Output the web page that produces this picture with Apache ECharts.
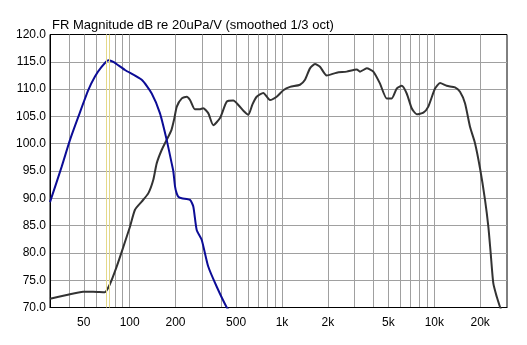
<!DOCTYPE html>
<html>
<head>
<meta charset="utf-8">
<script src="https://cdn.jsdelivr.net/npm/echarts@6/dist/echarts.min.js"></script>
<style>
  html, body { margin: 0; padding: 0; background: #fff; }
  #chart { width: 527px; height: 345px; }
</style>
</head>
<body>
<div id="chart"></div>
<script>
// Chart title
const titleText = 'FR Magnitude dB re 20uPa/V (smoothed 1/3 oct)';

// Frequency grid (Hz) and labelled frequencies
const gridFreqs = [40, 50, 60, 70, 80, 90, 100, 200, 300, 400, 500, 600, 700, 800, 900,
  1000, 2000, 3000, 4000, 5000, 6000, 7000, 8000, 9000, 10000, 20000];
const labelFreqs = [50, 100, 200, 500, 1000, 2000, 5000, 10000, 20000];

// Cursor marker frequencies (Hz)
const markerFreqs = [70.5, 73.7];

// Low-frequency driver response (blue)
const lowFreq = [30, 35.8, 40.6, 46, 53.5, 59.2, 65.6, 72.4, 78.1, 93.2, 120, 139.6, 158, 175,
  188.8, 193.4, 198.5, 203.6, 208.6, 219.6, 249, 261.7, 275.5, 297, 328, 373, 434, 450];
const lowDb = [89.3, 95.8, 100.7, 104.9, 109.8, 112.3, 114.1, 115.3, 115.0, 113.5, 111.7, 109.2, 105.6, 100.7,
  96.4, 95.0, 92.2, 90.9, 90.3, 90.0, 89.7, 88.5, 84.2, 82.4, 77.5, 73.8, 70.0, 69.5];

// Main driver response (dark grey)
const mainFreq = [30, 38.6, 49.5, 57.7, 68.7, 74, 82.2, 90.9, 100.5, 108.4, 120, 132.5, 143, 150.5,
  162, 175, 188, 196, 204, 220, 237, 249, 268, 287, 304, 328, 354, 392, 434, 479, 517, 560, 601,
  640, 682, 754, 834, 923, 1020, 1129, 1313, 1416, 1527, 1647, 1776, 1965, 2286, 2659, 3094, 3252,
  3600, 3978, 4401, 4869, 5252, 5664, 6108, 6588, 7104, 7664, 8475, 9132, 10107, 10899, 12060,
  13677, 14742, 15900, 17150, 18497, 19950, 21520, 22627, 23450, 24400, 25670, 26985, 27500];
const mainDb = [71.6, 72.3, 72.9, 72.9, 72.8, 74.2, 77.5, 81.1, 84.8, 87.9, 89.4, 90.9, 93.4, 96.4,
  98.8, 100.7, 102.5, 104.5, 106.8, 108.3, 108.6, 108.0, 106.3, 106.3, 106.5, 105.6, 103.4, 104.7, 107.7, 107.9, 107.1, 106.0, 105.3,
  107.2, 108.6, 109.3, 108.0, 108.6, 109.8, 110.4, 110.8, 111.7, 113.8, 114.6, 114.1, 112.5, 113.0, 113.2, 113.6, 113.2,
  113.8, 113.2, 111.0, 108.3, 108.3, 110.1, 110.6, 109.2, 106.5, 105.4, 105.7, 106.8, 110.1, 111.1, 110.6,
  110.3, 109.5, 107.4, 103.1, 100.1, 95.5, 89.7, 84.8, 79.9, 74.4, 72.0, 70.1, 69.5];

const pairs = (xs, ys) => xs.map((x, i) => [x, ys[i]]);
const fmtFreq = v => v >= 1000 ? (v / 1000) + 'k' : String(v);
const font = 'Arial, "Liberation Sans", sans-serif';

const chart = echarts.init(document.getElementById('chart'), null, { renderer: 'canvas' });
chart.setOption({
  animation: false,
  backgroundColor: '#fff',
  title: {
    text: titleText,
    left: 47, top: 14,
    textStyle: { fontFamily: font, fontSize: 13, fontWeight: 'normal', color: '#000' }
  },
  grid: {
    left: 50, right: 20, top: 34.5, bottom: 37.5,
    show: true, borderColor: '#000', borderWidth: 1, backgroundColor: 'transparent'
  },
  xAxis: {
    type: 'log', logBase: 10, min: 30, max: 30000,
    axisLine: { show: true, lineStyle: { color: '#000', width: 1 } },
    axisTick: { show: false, customValues: gridFreqs },
    axisLabel: {
      customValues: labelFreqs, formatter: fmtFreq, margin: 9,
      fontFamily: font, fontSize: 12, color: '#000'
    },
    splitLine: { show: true, lineStyle: { color: '#a0a0a0', width: 1 } }
  },
  yAxis: {
    type: 'value', min: 70, max: 120, interval: 5,
    axisLine: { show: true, lineStyle: { color: '#000', width: 1 } },
    axisTick: { show: false },
    axisLabel: {
      formatter: v => v.toFixed(1), margin: 4,
      fontFamily: font, fontSize: 12, color: '#000'
    },
    splitLine: { show: true, showMinLine: false, showMaxLine: false, lineStyle: { color: '#a0a0a0', width: 1 } }
  },
  series: [
    {
      type: 'line', data: [], z: 1, silent: true,
      markLine: {
        silent: true, symbol: 'none', animation: false,
        label: { show: false },
        lineStyle: { color: '#e4d98a', width: 1, type: 'solid' },
        data: markerFreqs.map(f => ({ xAxis: f }))
      }
    },
    {
      type: 'line', data: pairs(mainFreq, mainDb), z: 3,
      showSymbol: false, smooth: 0.2,
      lineStyle: { color: '#333333', width: 2 }
    },
    {
      type: 'line', data: pairs(lowFreq, lowDb), z: 4,
      showSymbol: false, smooth: 0.2,
      lineStyle: { color: '#0c0c96', width: 2 }
    }
  ]
});
</script>
</body>
</html>
